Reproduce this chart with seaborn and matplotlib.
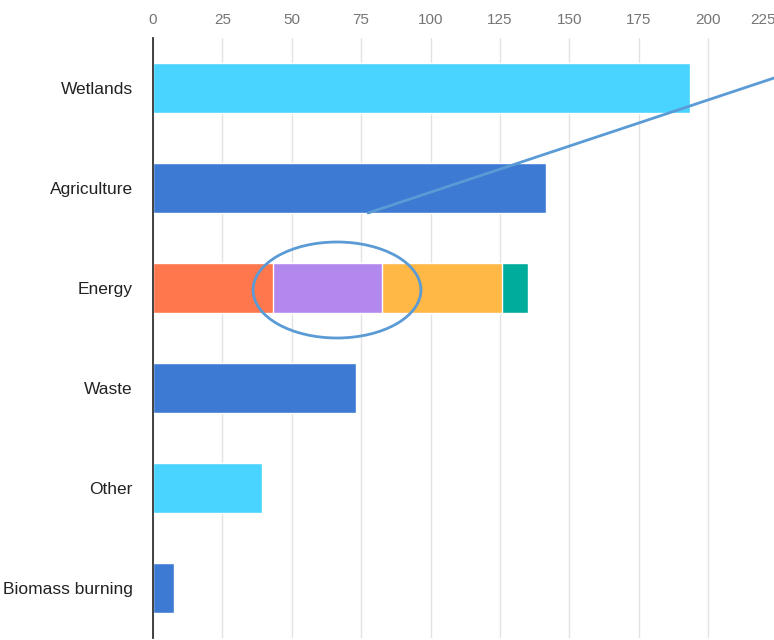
import matplotlib
matplotlib.use("Agg")
import matplotlib.pyplot as plt
import matplotlib.transforms as mtransforms
from matplotlib.patches import Ellipse
import numpy as np
import pandas as pd
import seaborn as sns

# Données
categories = ["Wetlands", "Agriculture", "Energy", "Waste", "Other", "Biomass burning"]
totals = [193.5, 141.5, None, 73.2, 39.3, 7.6]
bar_colors = ["#48D4FF", "#3D7AD4", None, "#3D7AD4", "#48D4FF", "#3D7AD4"]

energy_parts = [43.2, 39.3, 43.3, 9.4]
energy_colors = ["#FF774D", "#B388EE", "#FFB746", "#00AC9C"]

x_ticks = [0, 25, 50, 75, 100, 125, 150, 175, 200, 225]

sns.set_style("white")
plt.rcParams['font.family'] = ['Liberation Sans', 'DejaVu Sans']

px_per_unit = 2.775
x_max = 230

fig = plt.figure(figsize=(7.74, 6.4), dpi=100)
ax = fig.add_axes([153 / 774, 2 / 640, x_max * px_per_unit / 774, 600 / 640])

# Barres simples
simple = pd.DataFrame({"cat": categories, "val": totals, "col": bar_colors}).dropna()
sns.barplot(data=simple, x="val", y="cat", hue="cat", order=categories,
            palette=dict(zip(simple["cat"], simple["col"])), width=0.5,
            orient="h", legend=False, ax=ax, saturation=1)

# Barre empilée Energy (couches cumulées, la plus longue d'abord)
cum = np.cumsum(energy_parts)
for v, c in zip(cum[::-1], energy_colors[::-1]):
    sns.barplot(x=[v], y=["Energy"], order=categories, color=c, width=0.5,
                orient="h", ax=ax, saturation=1)

ax.set_xlim(0, x_max)
ax.set_ylim(5.5, -0.5)
ax.set_xlabel("")
ax.set_ylabel("")

# Axe x en haut
ax.xaxis.tick_top()
ax.set_xticks(x_ticks)
ax.tick_params(axis="x", length=0, pad=8, labelsize=11, labelcolor="#757575")
# dernier label ramené dans la figure
last = ax.get_xticklabels()[-1]
last.set_horizontalalignment("right")
last.set_transform(last.get_transform() + mtransforms.ScaledTranslation(-2 / 100, 0, fig.dpi_scale_trans))
ax.grid(axis="x", color="#e3e3e3", lw=1)
ax.set_axisbelow(True)

# Axe y
ax.set_yticks(range(len(categories)))
ax.set_yticklabels(categories)
ax.tick_params(axis="y", which="major", length=0, pad=14.5, labelsize=12.5, labelcolor="#222222")
ax.set_yticks(np.arange(-0.5, len(categories), 1), minor=True)
ax.tick_params(axis="y", which="minor", length=9.5, width=1.2, color="#333333", direction="out")

for s in ["top", "right", "bottom"]:
    ax.spines[s].set_visible(False)
ax.spines["left"].set_color("#333333")
ax.spines["left"].set_linewidth(1.3)

# Annotation : ellipse et ligne
ax.add_patch(Ellipse((66.3, 2.02), 60.5, 0.96, fill=False, ec="#5B9BD5", lw=2, zorder=5))
ax.plot([77.5, 223.8], [1.25, -0.1], color="#5B9BD5", lw=2, zorder=5, clip_on=False)

fig.savefig("out.png", dpi=100)
